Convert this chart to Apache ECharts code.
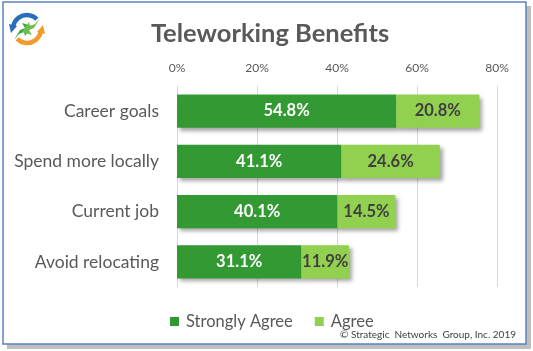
<!DOCTYPE html>
<html><head><meta charset="utf-8">
<script src="https://cdn.jsdelivr.net/npm/echarts@6/dist/echarts.min.js"></script>
<style>html,body{margin:0;padding:0;background:#fff}#c{width:533px;height:351px}</style>
</head><body><div id="c"></div>
<script>
const categories = ["Career goals", "Spend more locally", "Current job", "Avoid relocating"];
const stronglyAgree = [54.8, 41.1, 40.1, 31.1];
const agree = [20.8, 24.6, 14.5, 11.9];
const xTicks = [0, 20, 40, 60, 80];
const seriesNames = ["Strongly Agree", "Agree"];

const F = "Lato, 'Open Sans', sans-serif";
const chart = echarts.init(document.getElementById('c'), null, {renderer: 'canvas'});
const shadow = {shadowBlur: 4, shadowOffsetX: 3, shadowOffsetY: 3, shadowColor: 'rgba(0,0,0,0.35)'};
chart.setOption({
  animation: false,
  backgroundColor: '#fff',
  title: {text: 'Teleworking Benefits', left: 265, top: 16, textAlign: 'center',
    textStyle: {fontFamily: F, fontSize: 25.5, fontWeight: 'bold', color: '#595959'}},
  grid: {left: 177, right: 36, top: 86, bottom: 64},
  xAxis: {type: 'value', position: 'top', min: xTicks[0], max: xTicks[xTicks.length-1], interval: 20,
    axisLine: {show: false}, axisTick: {show: false},
    axisLabel: {formatter: v => v + '%', color: '#595959', fontFamily: F, fontSize: 12, margin: 12},
    splitLine: {lineStyle: {color: '#d9d9d9', width: 1}}},
  yAxis: {type: 'category', data: categories, inverse: true,
    axisLine: {lineStyle: {color: '#d9d9d9'}}, axisTick: {show: false},
    axisLabel: {color: '#595959', fontFamily: F, fontSize: 17.5, margin: 18}},
  legend: {bottom: 16, left: 165, itemWidth: 9, itemHeight: 9, itemGap: 22,
    icon: 'rect', textStyle: {fontFamily: F, fontSize: 16.5, color: '#595959', padding: [0, 0, 0, 2]}},
  series: [
    {name: seriesNames[0], type: 'bar', stack: 's', data: stronglyAgree, barWidth: '66%',
     itemStyle: Object.assign({color: '#339933'}, shadow),
     label: {show: true, position: 'inside', formatter: p => p.value.toFixed(1) + '%',
       color: '#fff', fontFamily: F, fontWeight: 'bold', fontSize: 16.5}},
    {name: seriesNames[1], type: 'bar', stack: 's', data: agree, barWidth: '66%',
     itemStyle: Object.assign({color: '#92D050'}, shadow),
     label: {show: true, position: 'inside', formatter: p => p.value.toFixed(1) + '%',
       color: '#404040', fontFamily: F, fontWeight: 'bold', fontSize: 16.5}}
  ],
  graphic: [
    {type: 'rect', z: -10, shape: {x: 7, y: 6, width: 524, height: 343},
     style: {fill: 'rgba(0,0,0,0.25)'}, silent: true},
    {type: 'rect', z: -9, shape: {x: 3, y: 2, width: 523, height: 342},
     style: {fill: '#fff', stroke: '#5b83c0', lineWidth: 1.5}, silent: true},
    {type: 'text', right: 17, bottom: 11, style: {text: '© Strategic  Networks  Group, Inc. 2019',
      font: '10px ' + F, fill: '#404040'}},
    // logo
    {type: 'arc', shape: {cx: 27, cy: 29, r: 14, startAngle: Math.PI*1.05, endAngle: Math.PI*1.75},
     style: {stroke: '#2a6ebb', lineWidth: 4.5, fill: null}},
    {type: 'polygon', shape: {points: [[9,24],[17,26],[11,33]]}, style: {fill: '#2a6ebb'}},
    {type: 'arc', shape: {cx: 27, cy: 29, r: 14, startAngle: Math.PI*0.05, endAngle: Math.PI*0.75},
     style: {stroke: '#f39a2b', lineWidth: 4.5, fill: null}},
    {type: 'polygon', shape: {points: [[45,34],[37,32],[43,25]]}, style: {fill: '#f39a2b'}},
    {type: 'polygon', shape: {points: [[14,40],[20,30],[25,28],[22,23],[32,26],[25,36],[24,32],[19,34]]}, style: {fill: '#3fa544'}},
    {type: 'polygon', shape: {points: [[40,18],[34,28],[29,30],[32,35],[22,32],[29,22],[30,26],[35,24]]}, style: {fill: '#6cc04a'}}
  ]
});
</script></body></html>
